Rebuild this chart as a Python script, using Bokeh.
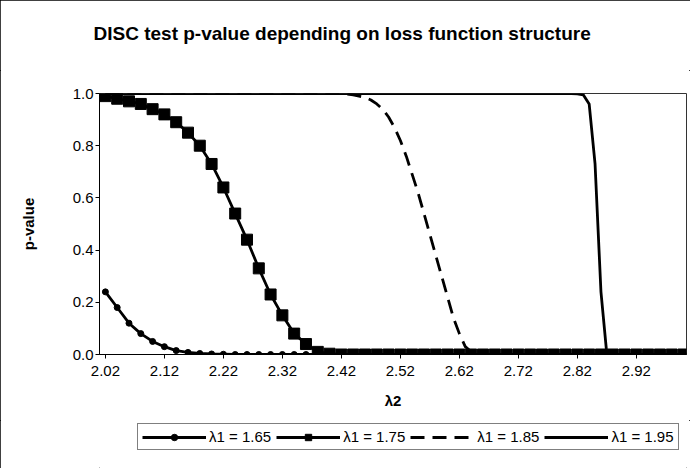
from bokeh.plotting import figure
from bokeh.layouts import column
from bokeh.models import (Legend, LegendItem, FixedTicker, NumeralTickFormatter, Title)
from bokeh.embed import file_html
from bokeh.resources import INLINE

# lambda2 values (0.02 step) for the marker series
lam2_coarse = [2.02, 2.04, 2.06, 2.08, 2.10, 2.12, 2.14, 2.16, 2.18, 2.20,
               2.22, 2.24, 2.26, 2.28, 2.30, 2.32, 2.34, 2.36, 2.38, 2.40,
               2.42, 2.44, 2.46, 2.48, 2.50, 2.52, 2.54, 2.56, 2.58, 2.60,
               2.62, 2.64, 2.66, 2.68, 2.70, 2.72, 2.74, 2.76, 2.78, 2.80,
               2.82, 2.84, 2.86, 2.88, 2.90, 2.92, 2.94, 2.96, 2.98, 3.00]

p_165 = [0.24, 0.18, 0.12, 0.08, 0.05, 0.03, 0.015, 0.008, 0.004, 0.002,
         0.001, 0.0, 0.0, 0.0, 0.0, 0.0, 0.0, 0.0, 0.0, 0.0,
         0.0, 0.0, 0.0, 0.0, 0.0, 0.0, 0.0, 0.0, 0.0, 0.0,
         0.0, 0.0, 0.0, 0.0, 0.0, 0.0, 0.0, 0.0, 0.0, 0.0,
         0.0, 0.0, 0.0, 0.0, 0.0, 0.0, 0.0, 0.0, 0.0, 0.0]

p_175 = [0.99, 0.98, 0.97, 0.96, 0.94, 0.92, 0.89, 0.85, 0.80, 0.73,
         0.64, 0.54, 0.44, 0.33, 0.23, 0.15, 0.08, 0.04, 0.01, 0.003,
         0.0, 0.0, 0.0, 0.0, 0.0, 0.0, 0.0, 0.0, 0.0, 0.0,
         0.0, 0.0, 0.0, 0.0, 0.0, 0.0, 0.0, 0.0, 0.0, 0.0,
         0.0, 0.0, 0.0, 0.0, 0.0, 0.0, 0.0, 0.0, 0.0, 0.0]

# lambda1 = 1.85 (dashed)
lam2_185 = [2.02, 2.10, 2.20, 2.30, 2.40, 2.42, 2.43, 2.44, 2.45, 2.46,
            2.47, 2.48, 2.49, 2.50, 2.51, 2.52, 2.53, 2.54, 2.55, 2.56,
            2.57, 2.58, 2.59, 2.60, 2.61, 2.62, 2.63, 2.64, 2.65, 2.70,
            2.80, 2.90, 3.00]
p_185 = [1.0, 1.0, 1.0, 1.0, 1.0, 1.0, 0.998, 0.995, 0.99, 0.985,
         0.975, 0.96, 0.94, 0.91, 0.87, 0.82, 0.76, 0.69, 0.62, 0.54,
         0.46, 0.38, 0.30, 0.22, 0.14, 0.08, 0.03, 0.01, 0.0, 0.0,
         0.0, 0.0, 0.0]

# lambda1 = 1.95 (solid)
lam2_195 = [2.02, 2.10, 2.20, 2.30, 2.40, 2.50, 2.60, 2.70, 2.80, 2.81,
            2.82, 2.83, 2.84, 2.85, 2.86, 2.87, 2.88, 2.90, 2.95, 3.00]
p_195 = [1.0, 1.0, 1.0, 1.0, 1.0, 1.0, 1.0, 1.0, 1.0, 1.0,
         0.999, 0.995, 0.96, 0.73, 0.24, 0.0, 0.0, 0.0, 0.0, 0.0]

x_ticks = [2.02, 2.12, 2.22, 2.32, 2.42, 2.52, 2.62, 2.72, 2.82, 2.92]
y_ticks = [0.0, 0.2, 0.4, 0.6, 0.8, 1.0]
labels = ["λ1 = 1.65", "λ1 = 1.75", "λ1 = 1.85", "λ1 = 1.95"]
title_text = "DISC test p-value depending on loss function structure"

FONT = "Liberation Sans"
LW = 2.8

# title strip on top
tf = figure(width=690, height=70, x_range=(0, 1), y_range=(0, 1),
            output_backend="svg", toolbar_location=None,
            x_axis_location=None, y_axis_location=None, min_border=0)
tf.outline_line_color = None
tf.grid.visible = False
tf.background_fill_color = "white"
tf.border_fill_color = "white"
tf.title = Title(text=title_text, text_font=FONT, text_font_size="19px",
                 text_font_style="bold", align="left", offset=-6,
                 text_color="black", standoff=41)

p = figure(width=690, height=350, x_range=(2.01, 3.005), y_range=(0, 1),
           output_backend="svg", toolbar_location=None,
           min_border_left=99, min_border_right=4, min_border_top=23,
           min_border_bottom=66)

p.xgrid.visible = False
p.ygrid.visible = False
p.outline_line_color = "#333333"
p.outline_line_width = 1
p.background_fill_color = "white"
p.border_fill_color = "white"

xa = p.below[0]
ya = p.left[0]
for ax in (xa, ya):
    ax.axis_line_color = "black"
    ax.axis_line_width = 1
    ax.major_tick_line_color = "black"
    ax.major_tick_in = 0
    ax.major_tick_out = 4
    ax.minor_tick_line_color = None
    ax.major_label_text_font = FONT
    ax.major_label_text_font_size = "15px"
    ax.major_label_text_color = "black"
    ax.axis_label_text_font = FONT
    ax.axis_label_text_font_size = "15px"
    ax.axis_label_text_font_style = "bold"
    ax.axis_label_text_color = "black"

xa.ticker = FixedTicker(ticks=x_ticks)
xa.formatter = NumeralTickFormatter(format="0.00")
xa.axis_label = "λ2"
xa.major_label_standoff = 7
xa.axis_label_standoff = 13

ya.ticker = FixedTicker(ticks=y_ticks)
ya.formatter = NumeralTickFormatter(format="0.0")
ya.axis_label = "p-value"
ya.major_label_standoff = 2
ya.axis_label_standoff = 33

p.line(lam2_coarse, p_165, line_color="black", line_width=LW)
p.scatter(lam2_coarse, p_165, marker="circle", size=6, fill_color="black", line_color="black")
p.line(lam2_coarse, p_175, line_color="black", line_width=LW)
p.scatter(lam2_coarse, p_175, marker="square", size=11, fill_color="black", line_color="black")
p.line(lam2_185, p_185, line_color="black", line_width=LW, line_dash="14 8")
p.line(lam2_195, p_195, line_color="black", line_width=LW)

# legend strip below the chart (series drawn outside its visible range)
lg = figure(width=690, height=48, x_range=(0, 1), y_range=(0, 1),
            output_backend="svg", toolbar_location=None,
            x_axis_location=None, y_axis_location=None, min_border=0)
lg.outline_line_color = None
lg.grid.visible = False
lg.background_fill_color = "white"
lg.border_fill_color = "white"
e1 = lg.line(lam2_coarse, p_165, line_color="black", line_width=LW)
s1 = lg.scatter(lam2_coarse, p_165, marker="circle", size=6, fill_color="black", line_color="black")
e2 = lg.line(lam2_coarse, p_175, line_color="black", line_width=LW)
s2 = lg.scatter(lam2_coarse, p_175, marker="square", size=11, fill_color="black", line_color="black")
e3 = lg.line(lam2_185, p_185, line_color="black", line_width=LW, line_dash="14 8")
e4 = lg.line(lam2_195, p_195, line_color="black", line_width=LW)

legend = Legend(items=[
    LegendItem(label=labels[0], renderers=[e1, s1]),
    LegendItem(label=labels[1], renderers=[e2, s2]),
    LegendItem(label=labels[2], renderers=[e3]),
    LegendItem(label=labels[3], renderers=[e4]),
], orientation="horizontal", location=(38, 18))
legend.label_text_font = FONT
legend.label_text_font_size = "15px"
legend.label_text_color = "black"
legend.glyph_width = 64
legend.glyph_height = 16
legend.label_standoff = 3
legend.spacing = 5
legend.padding = 4
legend.margin = 0
legend.border_line_color = "black"
legend.border_line_width = 1
legend.background_fill_color = "white"
lg.add_layout(legend)

layout = column(tf, p, lg, spacing=0,
                styles={"outline": "1px solid black", "outline-offset": "-1px"})

open("out.html", "w").write(file_html(layout, INLINE))
